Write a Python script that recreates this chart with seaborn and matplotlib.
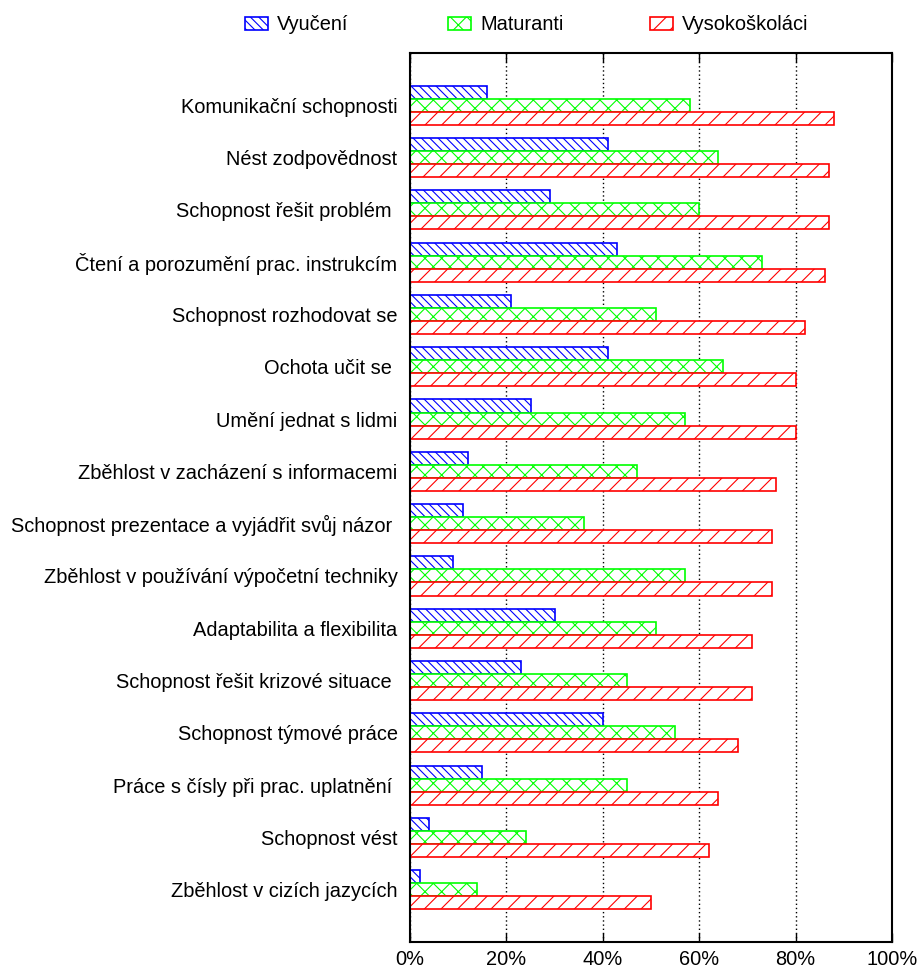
import matplotlib
matplotlib.use("Agg")
import matplotlib.pyplot as plt
import seaborn as sns
import pandas as pd
from matplotlib.patches import Patch
from matplotlib.ticker import FuncFormatter

categories = [
    "Komunikační schopnosti",
    "Nést zodpovědnost",
    "Schopnost řešit problém ",
    "Čtení a porozumění prac. instrukcím",
    "Schopnost rozhodovat se",
    "Ochota učit se ",
    "Umění jednat s lidmi",
    "Zběhlost v zacházení s informacemi",
    "Schopnost prezentace a vyjádřit svůj názor ",
    "Zběhlost v používání výpočetní techniky",
    "Adaptabilita a flexibilita",
    "Schopnost řešit krizové situace ",
    "Schopnost týmové práce",
    "Práce s čísly při prac. uplatnění ",
    "Schopnost vést",
    "Zběhlost v cizích jazycích",
]
series_names = ["Vyučení", "Maturanti", "Vysokoškoláci"]
vyuceni = [16, 41, 29, 43, 21, 41, 25, 12, 11, 9, 30, 23, 40, 15, 4, 2]
maturanti = [58, 64, 60, 73, 51, 65, 57, 47, 36, 57, 51, 45, 55, 45, 24, 14]
vysokoskolaci = [88, 87, 87, 86, 82, 80, 80, 76, 75, 75, 71, 71, 68, 64, 62, 50]
x_ticks = [0, 20, 40, 60, 80, 100]

colors = ["#0000ff", "#00ff00", "#ff0000"]
hatches = ["\\\\\\\\", "xx", "//"]

rows = []
for name, vals in zip(series_names, [vyuceni, maturanti, vysokoskolaci]):
    for c, v in zip(categories, vals):
        rows.append({"cat": c, "val": v, "grp": name})
df = pd.DataFrame(rows)

sns.set_style("white")
plt.rcParams["font.family"] = ["Liberation Sans", "DejaVu Sans"]
plt.rcParams["hatch.linewidth"] = 0.8
plt.rcParams["text.color"] = "black"
plt.rcParams["xtick.color"] = "black"
plt.rcParams["ytick.color"] = "black"
plt.rcParams["axes.labelcolor"] = "black"
FS = 14.4

fig = plt.figure(figsize=(9.18, 9.69), dpi=100)
ax = fig.add_axes([410 / 918, 1 - 942 / 969, (892 - 410) / 918, (942 - 53) / 969])

sns.barplot(data=df, y="cat", x="val", hue="grp", orient="h", width=0.75,
            palette=colors, ax=ax, legend=False, saturation=1)

for cont, col, h in zip(ax.containers, colors, hatches):
    for p in cont.patches:
        p.set_facecolor("white")
        p.set_edgecolor(col)
        p.set_hatch(h)
        p.set_linewidth(1.2)

ax.set_xlim(0, 100)
ax.set_ylim(16.0, -1.0)
ax.set_xticks(x_ticks)
ax.xaxis.set_major_formatter(FuncFormatter(lambda v, p: f"{int(v)}%"))
ax.set_xlabel("")
ax.set_ylabel("")
ax.tick_params(axis="x", which="major", direction="in", length=6.5, width=1,
               top=True, bottom=True, labelsize=FS, pad=6, color="black",
               labelcolor="black")
ax.tick_params(axis="y", length=0, labelsize=FS, pad=9, labelcolor="black")
ax.set_axisbelow(True)
ax.grid(axis="x", color="black", linestyle=(0, (1, 2)), linewidth=1)
ax.grid(axis="y", visible=False)
for s in ax.spines.values():
    s.set_color("black")
    s.set_linewidth(1.5)

xs = [245, 448, 650]
for name, col, h, x0 in zip(series_names, colors, hatches, xs):
    handle = Patch(facecolor="white", edgecolor=col, hatch=h, linewidth=1.2)
    fig.legend([handle], [name], loc="center left",
               bbox_to_anchor=(x0 / 918, 1 - 25 / 969), frameon=False,
               fontsize=FS, handlelength=1.15, handleheight=0.65,
               handletextpad=0.45, borderpad=0, borderaxespad=0,
               labelcolor="black")

fig.savefig("out.png", dpi=100)
